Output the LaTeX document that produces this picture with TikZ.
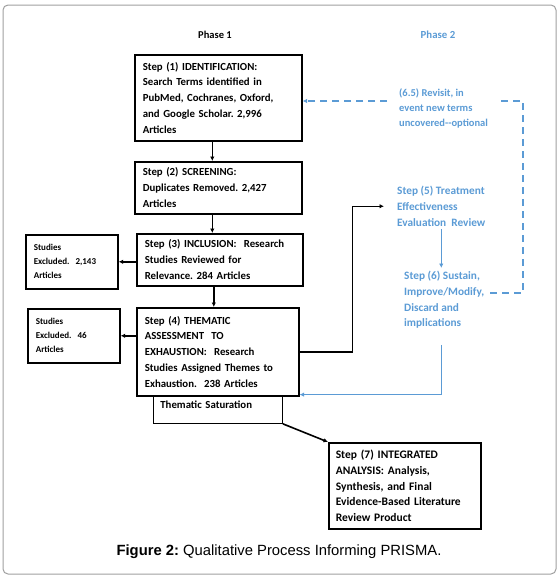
\documentclass[tikz,border=0pt]{standalone}
\usepackage{fontspec}
\setmainfont{Carlito}
\newfontfamily\capfont{Liberation Sans}
\usetikzlibrary{arrows.meta,calc}
\definecolor{phblue}{RGB}{91,155,213}
\frenchspacing
\tikzset{
  stepbox/.style={draw,line width=1.6pt,anchor=north west,align=left,inner xsep=8pt,inner ysep=3pt,
    font=\bfseries\fontsize{10.8}{15.8}\selectfont},
  exclbox/.style={stepbox,font=\bfseries\fontsize{9}{14}\selectfont},
  bluetext/.style={anchor=north west,align=left,text=phblue,inner xsep=2pt,inner ysep=3pt,
    font=\bfseries\fontsize{11.3}{15.8}\selectfont},
  arr/.style={line width=1.4pt,-{Latex[length=4.5pt,width=4.5pt]}},
  bluearr/.style={arr,phblue},
  dasharr/.style={bluearr,dash pattern=on 7pt off 5pt}
}
\begin{document}
\begin{tikzpicture}[x=1pt,y=-1pt]
\useasboundingbox (0,0) rectangle (560,579);
\draw[gray!75,line width=1pt,rounded corners=5pt](3,5) rectangle (556,574);
%phase 1
\node[font=\bfseries\fontsize{10.5}{12}\selectfont] (ph1) at (215,35) {Phase 1};
\node[stepbox,text width=151pt,minimum height=86pt] (s1) at (134,54)
  {Step (1) IDENTIFICATION:\\Search Terms identified in\\PubMed, Cochranes, Oxford,\\and Google Scholar. 2,996\\Articles};
\node[stepbox,text width=151pt,minimum height=52pt] (s2) at (134,161)
  {Step (2) SCREENING:\\Duplicates Removed. 2,427\\Articles};
\node[stepbox,text width=150pt,minimum height=52pt] (s3) at (136,233)
  {Step (3) INCLUSION:~~Research\\Studies Reviewed for\\Relevance. 284 Articles};
\node[stepbox,text width=146pt,minimum height=88pt] (s4) at (136,307)
  {Step (4) THEMATIC\\ASSESSMENT~~TO\\EXHAUSTION:~~Research\\Studies Assigned Themes to\\Exhaustion.~~238 Articles};
\node[exclbox,text width=76pt,minimum height=54pt] (ex1) at (25,234)
  {Studies\\Excluded.~~2,143\\Articles};
\node[exclbox,text width=76pt,minimum height=54pt] (ex2) at (27,308)
  {Studies\\Excluded.~~46\\Articles};
\node[stepbox,line width=0.8pt,inner xsep=7pt,text width=115pt,minimum height=28pt,text depth=9pt] (sat) at (153,395)
  {Thematic Saturation};
\node[stepbox,inner xsep=7pt,text width=138pt,minimum height=86pt,font=\bfseries\fontsize{11.5}{15.75}\selectfont] (s7) at (328,442)
  {Step (7) INTEGRATED\\ANALYSIS: Analysis,\\Synthesis, and Final\\Evidence-Based Literature\\Review Product};
\draw[arr]([xshift=-6pt]s1.south)--([xshift=-6pt]s1.south |- s2.north);
\draw[arr]([xshift=-6pt]s2.south)--([xshift=-6pt]s2.south |- s3.north);
\draw[arr]([xshift=-6pt]s3.south)--([xshift=-6pt]s3.south |- s4.north);
\draw[arr](s3.west |- ex1.east)--(ex1.east);
\draw[arr](s4.west |- ex2.east)--(ex2.east);
\draw[arr,line width=1.6pt](sat.south east)--(s7.north west);
%phase 2
\node[font=\bfseries\fontsize{10.8}{12}\selectfont,text=phblue] (ph2) at (438,35) {Phase 2};
\node[bluetext,inner xsep=12pt,font=\bfseries\fontsize{10.5}{14.6}\selectfont] (rev) at (387,86)
  {(6.5) Revisit, in\\event new terms\\uncovered{-}{-}optional};
\node[bluetext,inner xsep=13pt] (s5) at (384,183)
  {Step (5) Treatment\\Effectiveness\\Evaluation~~Review};
\node[bluetext,inner xsep=6pt] (s6) at (398,268)
  {Step (6) Sustain,\\Improve/Modify,\\Discard and\\implications};
\coordinate (turn) at (523,101);
\draw[arr](s4.east)--++(53,0)|-(s5.west);
\draw[bluearr](s5.south)--(s5.south |- s6.north);
\draw[bluearr]($(s5.south |- s6.south)+(0,13)$)|-([yshift=2pt]s4.south east);
\draw[dasharr,-]([yshift=7pt]s6.east)-|(turn)--(turn -| rev.east);
\draw[dasharr](turn -| rev.west)--(turn -| s1.east);
%caption
\node[font=\capfont\fontsize{14.8}{17}\selectfont] (cap) at (279,552)
  {\textbf{Figure 2:} Qualitative Process Informing PRISMA.};
\end{tikzpicture}
\end{document}
